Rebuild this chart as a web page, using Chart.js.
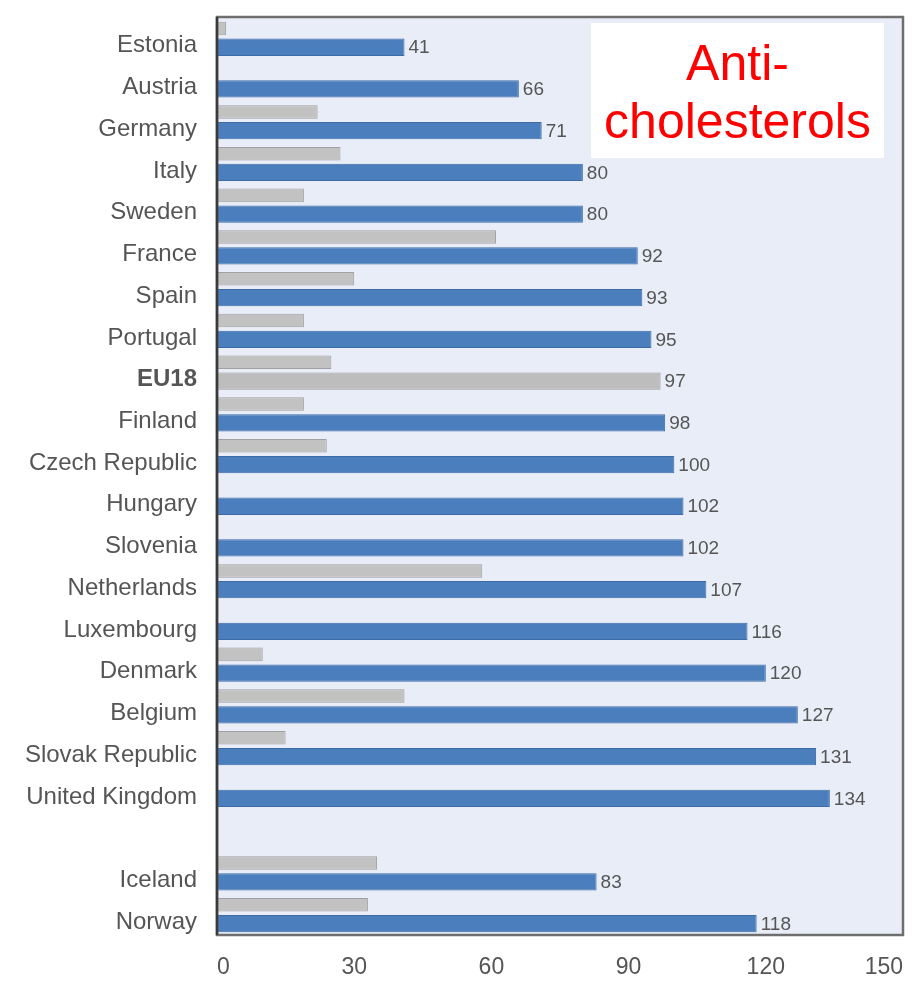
<!DOCTYPE html>
<html>
<head>
<meta charset="utf-8">
<script src="https://cdn.jsdelivr.net/npm/chart.js@4/dist/chart.umd.min.js"></script>
<style>
  html, body { margin: 0; padding: 0; background: #fff; }
  #wrap { width: 914px; height: 982px; position: relative; }
</style>
</head>
<body>
<div id="wrap"><canvas id="chart"></canvas></div>
<script>
// countries, blank slot separates the non-EU group at the bottom
const countries = ['Estonia', 'Austria', 'Germany', 'Italy', 'Sweden', 'France', 'Spain', 'Portugal', 'EU18',
  'Finland', 'Czech Republic', 'Hungary', 'Slovenia', 'Netherlands', 'Luxembourg', 'Denmark', 'Belgium',
  'Slovak Republic', 'United Kingdom', '', 'Iceland', 'Norway'];
const earlier = [2, null, 22, 27, 19, 61, 30, 19, 25, 19, 24, null, null, 58, null, 10, 41, 15, null, null, 35, 33];
const latest = [41, 66, 71, 80, 80, 92, 93, 95, 97, 98, 100, 102, 102, 107, 116, 120, 127, 131, 134, null, 83, 118];
const xTicks = [0, 30, 60, 90, 120, 150];

const BLUE = '#4a7ebd';
const GREY = '#c2c2c2';
const avgIndex = countries.indexOf('EU18');

const latestColors = countries.map((c, i) => i === avgIndex ? '#bdbdbd' : BLUE);
const latestBorders = countries.map((c, i) => i === avgIndex ? '#9c9c9c' : '#3d6ba6');

// plot background, frame and the value labels
const framePlugin = {
  id: 'frame',
  beforeDraw(chart) {
    const a = chart.chartArea, ctx = chart.ctx;
    ctx.save();
    ctx.fillStyle = '#e8edf7';
    ctx.fillRect(a.left, a.top, a.right - a.left, a.bottom - a.top);
    ctx.restore();
  },
  afterDatasetsDraw(chart) {
    const a = chart.chartArea, ctx = chart.ctx;
    ctx.save();
    ctx.strokeStyle = '#6e6e6e';
    ctx.lineWidth = 2.5;
    ctx.strokeRect(a.left, a.top, a.right - a.left, a.bottom - a.top);
    ctx.strokeStyle = '#3a3a3a';
    ctx.beginPath();
    ctx.moveTo(a.left, a.top);
    ctx.lineTo(a.left, a.bottom);
    ctx.stroke();

    // numbers after the latest bars
    const meta = chart.getDatasetMeta(1);
    ctx.font = '19px "Liberation Sans", Arial, sans-serif';
    ctx.fillStyle = '#555';
    ctx.textAlign = 'left';
    ctx.textBaseline = 'middle';
    meta.data.forEach((bar, i) => {
      if (latest[i] == null) return;
      ctx.fillText(String(latest[i]), bar.x + 4, bar.y + 1);
    });

    // caption box, top right inside the plot
    const bx = a.right - 312, by = a.top + 6, bw = 293, bh = 135;
    ctx.fillStyle = '#ffffff';
    ctx.fillRect(bx, by, bw, bh);
    ctx.fillStyle = '#ff0000';
    ctx.font = '50px "Liberation Sans", Arial, sans-serif';
    ctx.textAlign = 'center';
    ctx.textBaseline = 'alphabetic';
    ctx.fillText('Anti-', bx + bw / 2, by + 57);
    ctx.fillText('cholesterols', bx + bw / 2, by + 115);
    ctx.restore();
  }
};

// keep tick-label overhang from shrinking the plot area
function noOverhang(scale) {
  scale.paddingLeft = 0;
  scale.paddingRight = 0;
  scale.paddingTop = 0;
  scale.paddingBottom = 0;
}

new Chart(document.getElementById('chart'), {
  type: 'bar',
  data: {
    labels: countries,
    datasets: [
      {
        label: 'Earlier',
        data: earlier,
        backgroundColor: GREY,
        borderColor: '#a0a0a0',
        borderWidth: 1,
        barPercentage: 0.72,
        categoryPercentage: 0.9
      },
      {
        label: 'Latest',
        data: latest,
        backgroundColor: latestColors,
        borderColor: latestBorders,
        borderWidth: 1,
        barPercentage: 0.92,
        categoryPercentage: 0.9
      }
    ]
  },
  options: {
    indexAxis: 'y',
    responsive: true,
    maintainAspectRatio: false,
    animation: false,
    layout: { padding: { top: 17, right: 11, bottom: 0, left: 0 } },
    plugins: {
      legend: { display: false },
      tooltip: { enabled: false }
    },
    scales: {
      x: {
        min: 0,
        max: 150,
        afterBuildTicks(scale) {
          scale.ticks = xTicks.map(v => ({ value: v }));
        },
        afterFit(scale) { scale.height = 47; noOverhang(scale); },
        grid: { display: false, drawTicks: false },
        border: { display: false },
        ticks: {
          color: '#555',
          padding: 19,
          maxRotation: 0,
          align: 'inner',
          font: { family: '"Liberation Sans", Arial, sans-serif', size: 23 }
        }
      },
      y: {
        afterFit(scale) { scale.width = 217; noOverhang(scale); },
        grid: { display: false, drawTicks: false },
        border: { display: false },
        ticks: {
          color: '#555',
          padding: 20,
          labelOffset: 8,
          autoSkip: false,
          font: ctx => ({
            family: '"Liberation Sans", Arial, sans-serif',
            size: 24,
            weight: ctx.index === avgIndex ? 'bold' : 'normal'
          })
        }
      }
    }
  },
  plugins: [framePlugin]
});
</script>
</body>
</html>
